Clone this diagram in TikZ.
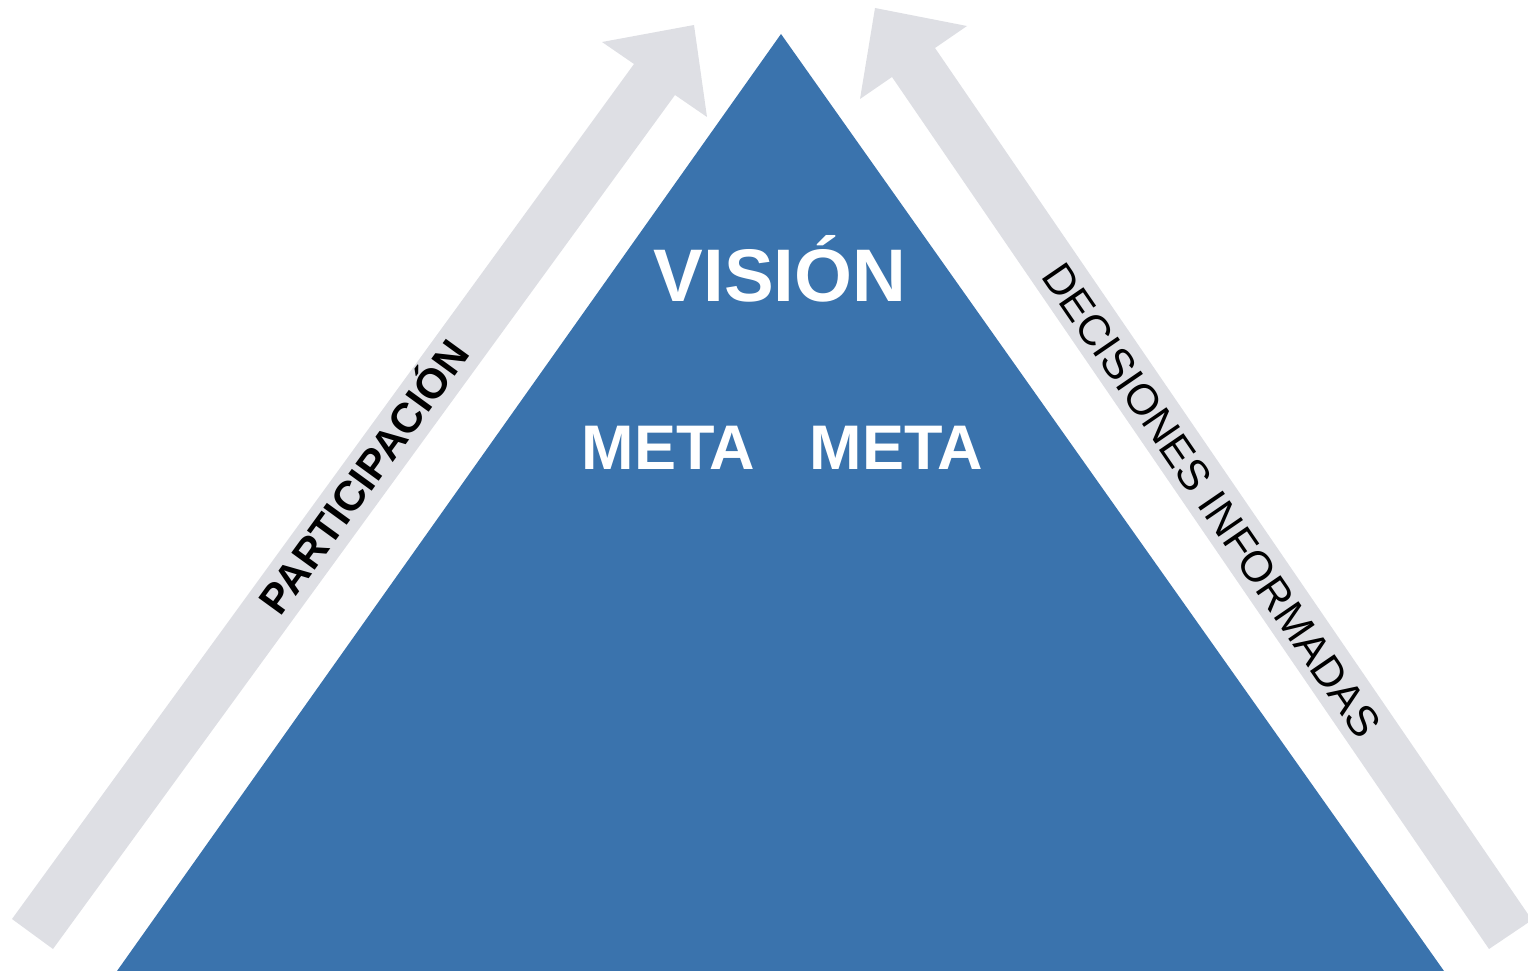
\documentclass[tikz,border=0pt]{standalone}
\usepackage{fontspec}
\setmainfont{Liberation Sans}
\definecolor{triblue}{HTML}{3A73AD}
\definecolor{arrowgray}{HTML}{DEDFE4}
\begin{document}
\begin{tikzpicture}[x=1pt,y=-1pt,
  arrowshape/.style={fill=arrowgray,draw=none},
  tri/.style={fill=triblue,draw=none},
  whitelbl/.style={text=white,font=\bfseries,inner sep=0pt},
  arrowlbl/.style={text=black,inner sep=0pt,text depth=0pt}]
\useasboundingbox (0,0) rectangle (1528,971);
\clip (0,0) rectangle (1528,971);
% left arrow
\fill[arrowshape] (12,919) -- (634,64) -- (602,42) -- (694,25) -- (707,117) -- (675,95) -- (53,949) -- cycle;
% right arrow
\fill[arrowshape] (1489,949) -- (892,77) -- (860,99) -- (875,8) -- (967,26) -- (935,48) -- (1532,920) -- cycle;
% triangle
\fill[tri] (781,34) -- (117,971) -- (1444,971) -- cycle;
% labels
\node[whitelbl,anchor=base,font=\fontsize{74.5}{80}\selectfont\bfseries] (vision) at (780,301) {VISIÓN};
\node[whitelbl,anchor=base,font=\fontsize{63}{66}\selectfont\bfseries] (meta1) at (668.5,469) {META};
\node[whitelbl,anchor=base,font=\fontsize{63}{66}\selectfont\bfseries] (meta2) at (896.5,469) {META};
\node[arrowlbl,text height=30pt,rotate=54,font=\fontsize{42}{46}\selectfont\bfseries] (part) at (364,477) {PARTICIPACIÓN};
\node[arrowlbl,text height=30.5pt,rotate=-55.6,font=\fontsize{43}{47}\selectfont] (dec) at (1212,500) {DECISIONES INFORMADAS};
\end{tikzpicture}
\end{document}
